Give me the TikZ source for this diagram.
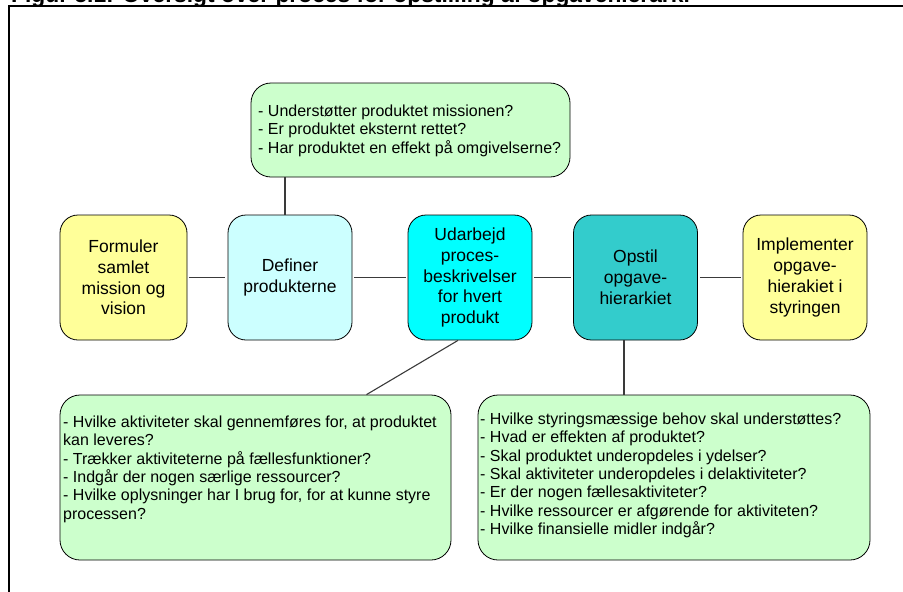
\documentclass[tikz,border=0pt]{standalone}
\usepackage{fontspec}
\setmainfont{Liberation Sans}
\usetikzlibrary{calc}
\definecolor{notegreen}{HTML}{CCFFCC}
\definecolor{paleyellow}{HTML}{FFFF99}
\definecolor{palecyan}{HTML}{CCFFFF}
\definecolor{brightcyan}{HTML}{00FFFF}
\definecolor{tealbox}{HTML}{33CCCC}
\definecolor{linkgray}{HTML}{3A3A3A}
\begin{document}
\begin{tikzpicture}[x=1pt,y=-1pt,
  stepbox/.style={draw=black, line width=0.8pt, rounded corners=18pt,
    minimum width=124pt, minimum height=125pt, inner sep=0pt,
    align=center, font=\fontsize{17.5}{20.8}\selectfont},
  notebox/.style={draw=black, line width=0.8pt, fill=notegreen,
    rounded corners=20pt, inner sep=0pt},
  notetext/.style={anchor=north west, align=left, inner sep=0pt,
    font=\fontsize{16}{18.4}\selectfont},
  link/.style={draw=linkgray, line width=1.1pt}
]
\useasboundingbox (0,0) rectangle (903,592);

% caption (runs off the top edge) and outer frame
\node[anchor=base west, inner sep=0pt,
  font=\fontsize{22.8}{26}\selectfont\bfseries] (caption) at (11,2.5)
  {Figur 5.1: Oversigt over proces for opstilling af opgavehierarki};
\draw[line width=2pt] (9.3,700) -- (9.3,6) -- (960,6);

% process steps
\node[stepbox, fill=paleyellow, minimum width=127pt] (mission) at (123.5,277.5)
  {Formuler\\samlet\\mission og\\vision};
\node[stepbox, fill=palecyan] (define) at (290,277.5)
  {Definer\\produkterne};
\node[stepbox, fill=brightcyan] (describe) at (470,277.5)
  {Udarbejd\\proces-\\beskrivelser\\for hvert\\produkt};
\node[stepbox, fill=tealbox] (build) at (635.5,277.5)
  {Opstil\\opgave-\\hierarkiet};
\node[stepbox, fill=paleyellow] (implement) at (805,277.5)
  {Implementer\\opgave-\\hierakiet i\\styringen};

% question boxes
\node[notebox, minimum width=319pt, minimum height=94pt] (qdefine) at (410.5,130) {};
\node[notetext] (qdefinetext) at (258,104.5)
  {- Understøtter produktet missionen?\\
   - Er produktet eksternt rettet?\\
   - Har produktet en effekt på omgivelserne?};

\node[notebox, minimum width=391pt, minimum height=165pt] (qdescribe) at (255.5,477.5) {};
\node[notetext] (qdescribetext) at (63,415.5)
  {- Hvilke aktiviteter skal gennemføres for, at produktet\\
   kan leveres?\\
   - Trækker aktiviteterne på fællesfunktioner?\\
   - Indgår der nogen særlige ressourcer?\\
   - Hvilke oplysninger har I brug for, for at kunne styre\\
   processen?};

\node[notebox, minimum width=392pt, minimum height=165pt] (qbuild) at (674,477.5) {};
\node[notetext] (qbuildtext) at (480,412.5)
  {- Hvilke styringsmæssige behov skal understøttes?\\
   - Hvad er effekten af produktet?\\
   - Skal produktet underopdeles i ydelser?\\
   - Skal aktiviteter underopdeles i delaktiviteter?\\
   - Er der nogen fællesaktiviteter?\\
   - Hvilke ressourcer er afgørende for aktiviteten?\\
   - Hvilke finansielle midler indgår?};

% connectors
\path[link, shorten <=1.5pt, shorten >=2.5pt] (mission.east) -- (define.west);
\path[link, shorten <=2pt, shorten >=2pt] (define.east) -- (describe.west);
\path[link, shorten <=2pt, shorten >=2pt] (describe.east) -- (build.west);
\path[link, shorten <=2pt, shorten >=2pt] (build.east) -- (implement.west);
\path[link] ([xshift=-5pt]define.north) -- ([xshift=-5pt]define.north |- qdefine.south);
\path[link] ([xshift=-12pt]describe.south) -- ([xshift=111pt]qdescribe.north);
\path[link] ([xshift=-11.5pt]build.south) -- ([xshift=-11.5pt]build.south |- qbuild.north);
\end{tikzpicture}
\end{document}
